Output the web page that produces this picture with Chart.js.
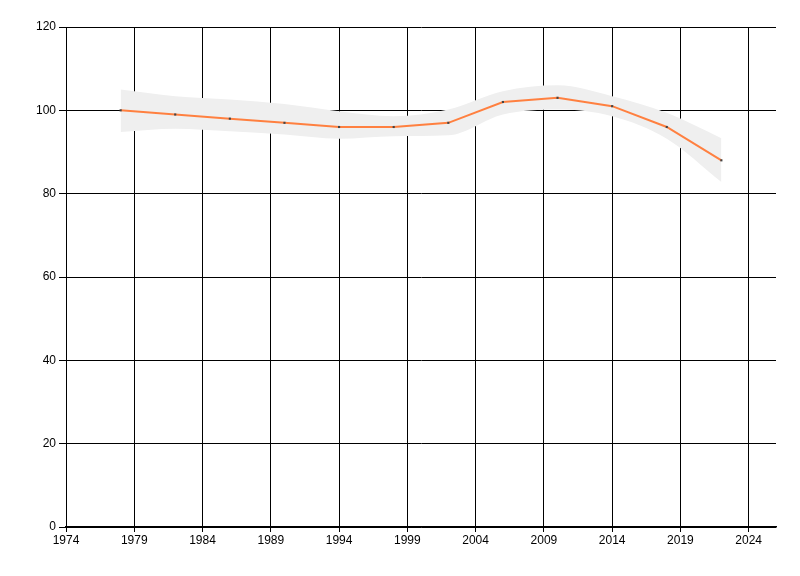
<!DOCTYPE html>
<html>
<head>
<meta charset="utf-8">
<script src="https://cdn.jsdelivr.net/npm/chart.js@4/dist/chart.umd.min.js"></script>
<style>
  body { margin: 0; background: #fff; }
  #chart { display: block; }
</style>
</head>
<body>
<canvas id="chart" width="800" height="576"></canvas>
<script>
const years = [1978, 1982, 1986, 1990, 1994, 1998, 2002, 2006, 2010, 2014, 2018, 2022];
const values = [100, 99, 98, 97, 96, 96, 97, 102, 103, 101, 96, 88];
const upper = [105, 103.4, 102.6, 101.5, 99.8, 98.6, 100.2, 104.6, 106, 103.4, 99.4, 93.3];
const lower = [94.8, 95.6, 95, 94.2, 93.2, 93.8, 94, 99, 100.2, 98.6, 93.2, 82.8];
const xTicks = [1974, 1979, 1984, 1989, 1994, 1999, 2004, 2009, 2014, 2019, 2024];
const yTicks = [0, 20, 40, 60, 80, 100, 120];

const pts = arr => years.map((y, i) => ({ x: y, y: arr[i] }));
const font = { family: "'Liberation Sans Narrow', 'Liberation Sans', sans-serif", size: 12 };

new Chart(document.getElementById("chart"), {
    type: "line",
    data: {
        datasets: [
            {
                data: pts(values),
                borderColor: "#ff8040",
                borderWidth: 2,
                pointRadius: 1.5,
                pointStyle: "rect",
                pointBackgroundColor: "#444",
                pointBorderWidth: 0,
                tension: 0,
                order: 0
            },
            {
                data: pts(upper),
                borderWidth: 0,
                pointRadius: 0,
                backgroundColor: "#efefef",
                fill: "+1",
                cubicInterpolationMode: "monotone",
                order: 1
            },
            {
                data: pts(lower),
                borderWidth: 0,
                pointRadius: 0,
                fill: false,
                cubicInterpolationMode: "monotone",
                order: 1
            }
        ]
    },
    options: {
        responsive: false,
        animation: false,
        layout: { padding: { top: 27, right: 24, left: 0, bottom: 0 } },
        plugins: {
            legend: { display: false },
            tooltip: { enabled: false }
        },
        scales: {
            x: {
                type: "linear",
                min: 1974,
                max: 2026,
                afterBuildTicks: s => { s.ticks = xTicks.map(v => ({ value: v })); },
                afterFit: s => { s.height = 49; },
                grid: { color: "#000", lineWidth: 1, tickLength: 5 },
                border: { color: "#000", width: 1.5 },
                ticks: { color: "#000", font, padding: 1, maxRotation: 0, callback: v => String(v) }
            },
            y: {
                min: 0,
                max: 120,
                afterBuildTicks: s => { s.ticks = yTicks.map(v => ({ value: v })); },
                afterFit: s => { s.width = 66; },
                grid: { color: "#000", lineWidth: 1, tickLength: 7 },
                border: { color: "#000", width: 1 },
                ticks: { color: "#000", font, padding: 3, callback: v => String(v) }
            }
        }
    }
});
</script>
</body>
</html>
